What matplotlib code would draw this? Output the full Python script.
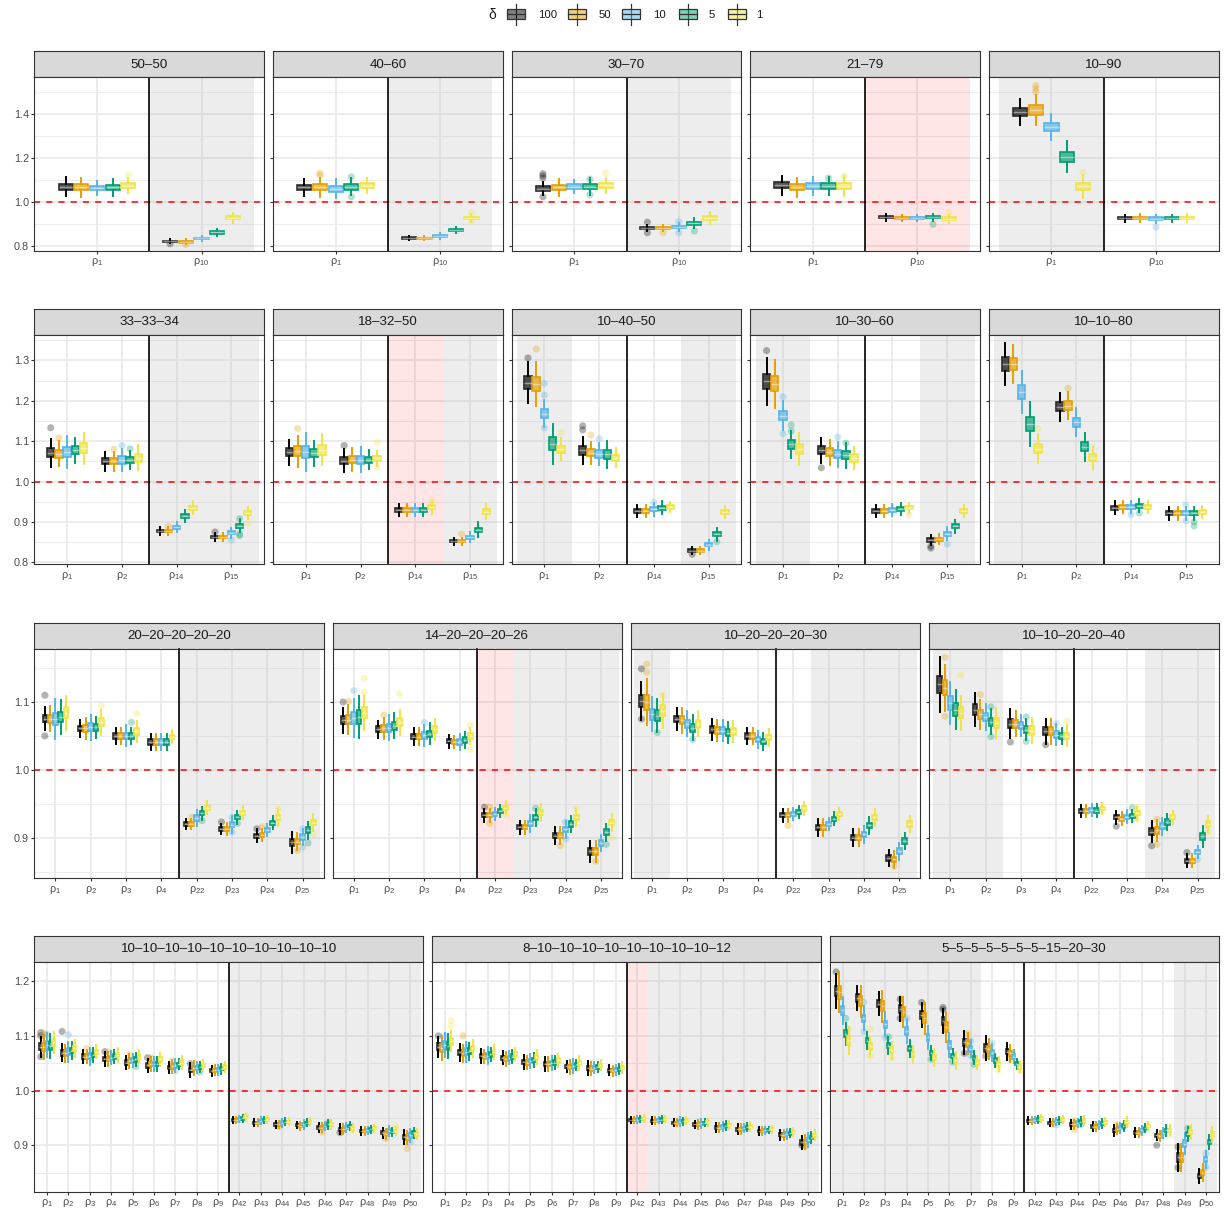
import matplotlib
matplotlib.use("Agg")
import matplotlib.pyplot as plt
from matplotlib.patches import Rectangle
from matplotlib.lines import Line2D
from matplotlib.colors import to_rgba

plt.rcParams['font.family'] = ['Liberation Sans', 'DejaVu Sans']
plt.rcParams['mathtext.fontset'] = 'custom'
plt.rcParams['mathtext.rm'] = 'Liberation Sans'
plt.rcParams['mathtext.default'] = 'regular'

W, H = 1224, 1213
fig = plt.figure(figsize=(W / 100, H / 100), dpi=100)

# ---------------------------------------------------------------- data
DELTAS = ['100', '50', '10', '5', '1']
COLORS = ['#000000', '#E69F00', '#56B4E9', '#009E73', '#F0E442']

cats_r1 = ['1', '10']
cats_r2 = ['1', '2', '14', '15']
cats_r3 = ['1', '2', '3', '4', '22', '23', '24', '25']
cats_r4 = ['1', '2', '3', '4', '5', '6', '7', '8', '9',
           '42', '43', '44', '45', '46', '47', '48', '49', '50']

# medians: one list per delta (100, 50, 10, 5, 1), one value per category
med_50_50 = [[1.070, 0.823], [1.068, 0.821], [1.066, 0.836], [1.068, 0.863], [1.076, 0.929]]
iqr_50_50 = [[0.028, 0.006], [0.028, 0.007], [0.020, 0.008], [0.025, 0.010], [0.022, 0.014]]
out_50_50 = [(2, 0, 0.812), (2, 1, 0.808), (1, 4, 1.122)]

med_40_60 = [[1.068, 0.838], [1.068, 0.836], [1.062, 0.847], [1.070, 0.874], [1.075, 0.928]]
iqr_40_60 = [[0.025, 0.006], [0.028, 0.006], [0.028, 0.008], [0.025, 0.010], [0.022, 0.012]]
out_40_60 = [(1, 1, 1.132), (1, 1, 1.122), (1, 3, 1.115), (1, 3, 1.025), (2, 4, 0.952), (2, 4, 0.914)]

med_30_70 = [[1.062, 0.883], [1.068, 0.883], [1.071, 0.888], [1.071, 0.905], [1.078, 0.928]]
iqr_30_70 = [[0.020, 0.010], [0.025, 0.010], [0.020, 0.012], [0.025, 0.015], [0.022, 0.018]]
out_30_70 = [(1, 0, 1.13), (1, 0, 1.12), (1, 0, 1.11), (1, 0, 1.025), (1, 3, 1.105), (1, 3, 1.035),
             (1, 4, 1.132), (2, 0, 0.91), (2, 0, 0.862), (2, 1, 0.862), (2, 2, 0.912), (2, 2, 0.862),
             (2, 3, 0.870)]

med_21_79 = [[1.077, 0.932], [1.068, 0.929], [1.074, 0.929], [1.074, 0.932], [1.074, 0.925]]
iqr_21_79 = [[0.028, 0.010], [0.028, 0.010], [0.025, 0.010], [0.025, 0.010], [0.028, 0.012]]
out_21_79 = [(1, 3, 1.11), (1, 4, 1.12), (2, 3, 0.90), (2, 4, 0.955)]

med_10_90 = [[1.410, 0.928], [1.420, 0.928], [1.342, 0.925], [1.207, 0.928], [1.072, 0.928]]
iqr_10_90 = [[0.037, 0.010], [0.044, 0.012], [0.037, 0.012], [0.045, 0.010], [0.033, 0.012]]
out_10_90 = [(1, 1, 1.53), (1, 1, 1.515), (1, 1, 1.50), (1, 4, 1.135), (2, 2, 0.888)]

med_33_33_34 = [[1.071, 1.050, 0.877, 0.862], [1.069, 1.050, 0.877, 0.862],
                [1.073, 1.053, 0.887, 0.873], [1.077, 1.053, 0.914, 0.891],
                [1.082, 1.059, 0.935, 0.922]]
iqr_33_33_34 = [[0.022, 0.015, 0.006, 0.006], [0.020, 0.015, 0.006, 0.006],
                [0.025, 0.018, 0.008, 0.008], [0.020, 0.015, 0.010, 0.010],
                [0.025, 0.020, 0.010, 0.010]]
out_33_33_34 = [(1, 0, 1.133), (1, 1, 1.108), (2, 1, 1.080), (2, 2, 1.089), (2, 3, 1.081),
                (3, 1, 0.889), (4, 0, 0.875), (4, 2, 0.855), (4, 3, 0.908), (4, 3, 0.870),
                (4, 3, 0.866), (4, 4, 0.897)]

med_18_32_50 = [[1.073, 1.052, 0.929, 0.852], [1.075, 1.054, 0.929, 0.852],
                [1.073, 1.054, 0.929, 0.862], [1.070, 1.054, 0.929, 0.880],
                [1.079, 1.058, 0.936, 0.925]]
iqr_18_32_50 = [[0.020, 0.018, 0.010, 0.006], [0.025, 0.018, 0.010, 0.006],
                [0.030, 0.020, 0.010, 0.008], [0.020, 0.015, 0.010, 0.012],
                [0.025, 0.012, 0.010, 0.012]]
out_18_32_50 = [(1, 1, 1.131), (2, 0, 1.089), (2, 4, 1.097), (2, 4, 1.036), (3, 4, 0.951),
                (4, 1, 0.870)]

med_10_40_50 = [[1.245, 1.077, 0.927, 0.829], [1.242, 1.071, 0.927, 0.829],
                [1.168, 1.068, 0.931, 0.844], [1.093, 1.067, 0.935, 0.869],
                [1.080, 1.059, 0.937, 0.925]]
iqr_10_40_50 = [[0.033, 0.022, 0.010, 0.006], [0.035, 0.018, 0.010, 0.006],
                [0.022, 0.018, 0.010, 0.008], [0.032, 0.022, 0.010, 0.010],
                [0.018, 0.015, 0.008, 0.010]]
out_10_40_50 = [(1, 0, 1.306), (1, 1, 1.328), (1, 2, 1.243), (1, 2, 1.214), (1, 2, 1.133),
                (1, 4, 1.12), (2, 0, 1.138), (2, 0, 1.128), (2, 1, 1.115), (2, 2, 1.106),
                (3, 2, 0.949), (4, 0, 0.820), (4, 3, 0.851)]

med_10_30_60 = [[1.248, 1.077, 0.927, 0.855], [1.242, 1.073, 0.927, 0.857],
                [1.163, 1.068, 0.929, 0.871], [1.092, 1.065, 0.932, 0.889],
                [1.081, 1.058, 0.935, 0.927]]
iqr_10_30_60 = [[0.037, 0.020, 0.010, 0.008], [0.038, 0.020, 0.010, 0.008],
                [0.023, 0.020, 0.010, 0.010], [0.022, 0.020, 0.010, 0.010],
                [0.026, 0.018, 0.008, 0.010]]
out_10_30_60 = [(1, 0, 1.324), (1, 2, 1.21), (1, 2, 1.118), (1, 3, 1.14), (1, 3, 1.125),
                (2, 0, 1.034), (2, 2, 1.11), (2, 3, 1.095), (3, 4, 0.917), (4, 0, 0.840),
                (4, 0, 0.835), (4, 2, 0.845)]

med_10_10_80 = [[1.291, 1.185, 0.935, 0.921], [1.291, 1.188, 0.937, 0.921],
                [1.222, 1.147, 0.937, 0.921], [1.143, 1.086, 0.940, 0.921],
                [1.081, 1.059, 0.937, 0.925]]
iqr_10_10_80 = [[0.033, 0.022, 0.010, 0.010], [0.030, 0.022, 0.010, 0.010],
                [0.034, 0.022, 0.010, 0.010], [0.035, 0.022, 0.010, 0.010],
                [0.023, 0.018, 0.010, 0.010]]
out_10_10_80 = [(1, 4, 1.13), (2, 1, 1.231), (3, 2, 0.918), (3, 3, 0.922), (4, 2, 0.942),
                (4, 2, 0.903), (4, 3, 0.900), (4, 3, 0.890)]

med_20x5 = [[1.0755, 1.061, 1.050, 1.041, 0.920, 0.913, 0.903, 0.893],
            [1.0755, 1.061, 1.050, 1.041, 0.920, 0.913, 0.904, 0.894],
            [1.075, 1.063, 1.050, 1.041, 0.929, 0.919, 0.911, 0.901],
            [1.078, 1.063, 1.050, 1.041, 0.936, 0.930, 0.922, 0.911],
            [1.084, 1.070, 1.057, 1.049, 0.944, 0.937, 0.930, 0.922]]
iqr_20x5 = [[0.011, 0.008, 0.008, 0.008, 0.005, 0.005, 0.006, 0.010],
            [0.012, 0.010, 0.008, 0.008, 0.005, 0.006, 0.006, 0.008],
            [0.019, 0.012, 0.010, 0.008, 0.008, 0.008, 0.006, 0.008],
            [0.016, 0.010, 0.008, 0.008, 0.006, 0.006, 0.006, 0.008],
            [0.016, 0.012, 0.010, 0.006, 0.006, 0.006, 0.008, 0.008]]
out_20x5 = [(1, 0, 1.11), (1, 0, 1.05), (2, 4, 1.094), (3, 3, 1.07), (3, 4, 1.083),
            (5, 1, 0.93), (5, 3, 0.925), (6, 0, 0.923), (6, 2, 0.93), (6, 2, 0.908),
            (6, 3, 0.921), (7, 0, 0.913), (7, 1, 0.916), (7, 4, 0.942), (8, 1, 0.881),
            (8, 2, 0.886), (8, 2, 0.913), (8, 3, 0.892), (8, 4, 0.906)]

med_14_26 = [[1.073, 1.060, 1.049, 1.042, 0.933, 0.915, 0.903, 0.880],
             [1.074, 1.061, 1.049, 1.041, 0.933, 0.915, 0.903, 0.880],
             [1.076, 1.062, 1.051, 1.041, 0.935, 0.921, 0.912, 0.892],
             [1.078, 1.065, 1.053, 1.044, 0.939, 0.930, 0.920, 0.908],
             [1.084, 1.070, 1.060, 1.050, 0.944, 0.937, 0.930, 0.922]]
iqr_14_26 = [[0.012, 0.008, 0.008, 0.006, 0.006, 0.006, 0.008, 0.010],
             [0.014, 0.010, 0.008, 0.006, 0.006, 0.006, 0.008, 0.010],
             [0.018, 0.012, 0.010, 0.008, 0.006, 0.008, 0.008, 0.008],
             [0.020, 0.012, 0.010, 0.008, 0.006, 0.008, 0.008, 0.008],
             [0.016, 0.012, 0.010, 0.008, 0.006, 0.008, 0.008, 0.008]]
out_14_26 = [(1, 0, 1.10), (1, 1, 1.101), (1, 2, 1.117), (1, 4, 1.135), (1, 4, 1.114),
             (2, 1, 1.081), (2, 4, 1.112), (3, 2, 1.07), (4, 4, 1.066), (4, 4, 1.03),
             (5, 0, 0.945), (5, 1, 0.945), (5, 1, 0.921), (5, 4, 0.934), (6, 3, 0.943),
             (7, 1, 0.888), (7, 2, 0.923), (7, 2, 0.898), (7, 4, 0.944), (8, 1, 0.865),
             (8, 3, 0.89), (8, 4, 0.90)]

med_10_20_30 = [[1.102, 1.075, 1.060, 1.050, 0.933, 0.915, 0.900, 0.870],
                [1.100, 1.073, 1.058, 1.050, 0.933, 0.915, 0.900, 0.868],
                [1.082, 1.068, 1.058, 1.045, 0.935, 0.920, 0.905, 0.880],
                [1.080, 1.062, 1.055, 1.042, 0.938, 0.928, 0.918, 0.895],
                [1.087, 1.068, 1.057, 1.048, 0.943, 0.935, 0.930, 0.920]]
iqr_10_20_30 = [[0.018, 0.010, 0.010, 0.008, 0.006, 0.008, 0.008, 0.008],
                [0.022, 0.012, 0.010, 0.008, 0.006, 0.008, 0.008, 0.008],
                [0.016, 0.012, 0.010, 0.008, 0.006, 0.006, 0.008, 0.008],
                [0.016, 0.012, 0.010, 0.008, 0.006, 0.006, 0.008, 0.008],
                [0.016, 0.012, 0.010, 0.008, 0.006, 0.006, 0.008, 0.008]]
out_10_20_30 = [(1, 0, 1.149), (1, 0, 1.075), (1, 1, 1.156), (1, 1, 1.144), (1, 3, 1.055),
                (1, 4, 1.11), (2, 3, 1.045), (5, 1, 0.918), (8, 1, 0.858)]

med_10_10_20_20_40 = [[1.126, 1.089, 1.068, 1.057, 0.939, 0.930, 0.909, 0.866],
                      [1.121, 1.082, 1.068, 1.057, 0.939, 0.928, 0.911, 0.866],
                      [1.099, 1.078, 1.065, 1.052, 0.941, 0.931, 0.917, 0.879],
                      [1.089, 1.071, 1.059, 1.050, 0.940, 0.932, 0.923, 0.902],
                      [1.084, 1.069, 1.058, 1.050, 0.943, 0.936, 0.930, 0.920]]
iqr_10_10_20_20_40 = [[0.026, 0.016, 0.014, 0.012, 0.006, 0.006, 0.010, 0.006],
                      [0.022, 0.014, 0.012, 0.012, 0.006, 0.006, 0.010, 0.006],
                      [0.020, 0.012, 0.010, 0.010, 0.006, 0.006, 0.008, 0.006],
                      [0.019, 0.012, 0.010, 0.008, 0.006, 0.006, 0.008, 0.010],
                      [0.016, 0.014, 0.012, 0.010, 0.005, 0.006, 0.006, 0.008]]
out_10_10_20_20_40 = [(1, 1, 1.166), (1, 1, 1.079), (1, 4, 1.14), (2, 1, 1.111), (2, 3, 1.093),
                      (2, 3, 1.049), (3, 0, 1.041), (3, 3, 1.078), (3, 3, 1.042), (4, 0, 1.037),
                      (4, 2, 1.068), (4, 4, 1.072), (6, 0, 0.917), (6, 3, 0.944), (6, 4, 0.944),
                      (6, 4, 0.927), (7, 0, 0.888), (7, 1, 0.927), (7, 1, 0.890), (8, 0, 0.878),
                      (8, 2, 0.868), (8, 4, 0.909)]

med_10x10 = [[1.080, 1.069, 1.062, 1.058, 1.051, 1.046, 1.042, 1.038, 1.036,
              0.946, 0.941, 0.938, 0.937, 0.932, 0.929, 0.926, 0.923, 0.915],
             [1.079, 1.068, 1.062, 1.058, 1.054, 1.048, 1.044, 1.041, 1.037,
              0.946, 0.941, 0.938, 0.935, 0.932, 0.929, 0.926, 0.921, 0.914],
             [1.083, 1.071, 1.063, 1.060, 1.055, 1.049, 1.046, 1.042, 1.038,
              0.948, 0.945, 0.941, 0.938, 0.935, 0.932, 0.927, 0.926, 0.918],
             [1.081, 1.073, 1.065, 1.062, 1.057, 1.049, 1.048, 1.043, 1.040,
              0.949, 0.946, 0.943, 0.941, 0.938, 0.935, 0.929, 0.924, 0.923],
             [1.088, 1.077, 1.071, 1.065, 1.062, 1.057, 1.051, 1.046, 1.043,
              0.951, 0.947, 0.943, 0.943, 0.938, 0.931, 0.931, 0.926, 0.920]]
iqr_10x10 = [[0.012, 0.010, 0.008, 0.008, 0.008, 0.008, 0.006, 0.008, 0.006,
              0.004, 0.004, 0.004, 0.004, 0.005, 0.006, 0.005, 0.006, 0.008],
             [0.014, 0.010, 0.008, 0.008, 0.008, 0.008, 0.008, 0.008, 0.006,
              0.004, 0.004, 0.004, 0.005, 0.005, 0.006, 0.005, 0.006, 0.008],
             [0.014, 0.012, 0.010, 0.008, 0.008, 0.008, 0.008, 0.006, 0.006,
              0.004, 0.004, 0.005, 0.005, 0.005, 0.005, 0.004, 0.006, 0.008],
             [0.014, 0.010, 0.008, 0.008, 0.008, 0.008, 0.006, 0.006, 0.006,
              0.004, 0.004, 0.004, 0.004, 0.005, 0.005, 0.004, 0.005, 0.006],
             [0.012, 0.010, 0.008, 0.008, 0.008, 0.008, 0.008, 0.006, 0.006,
              0.004, 0.004, 0.004, 0.004, 0.005, 0.005, 0.004, 0.005, 0.006]]
out_10x10 = [(1, 0, 1.100), (1, 0, 1.106), (1, 0, 1.062), (1, 1, 1.105), (1, 1, 1.100),
             (1, 2, 1.103), (2, 0, 1.108), (2, 2, 1.102), (3, 1, 1.077), (4, 0, 1.071),
             (4, 1, 1.071), (5, 1, 1.066), (5, 3, 1.044), (6, 0, 1.060), (6, 1, 1.060),
             (7, 1, 1.054), (7, 2, 1.036), (8, 0, 1.049), (8, 3, 1.034), (10, 4, 0.955),
             (12, 1, 0.934), (14, 1, 0.924), (14, 3, 0.940), (15, 0, 0.923), (17, 1, 0.912),
             (17, 4, 0.934), (18, 1, 0.894), (18, 2, 0.906)]

med_8_12 = [[1.080, 1.070, 1.063, 1.060, 1.052, 1.049, 1.044, 1.041, 1.037,
             0.946, 0.945, 0.941, 0.938, 0.932, 0.929, 0.926, 0.919, 0.905],
            [1.078, 1.068, 1.062, 1.058, 1.051, 1.048, 1.043, 1.040, 1.036,
             0.946, 0.945, 0.941, 0.938, 0.932, 0.929, 0.926, 0.918, 0.906],
            [1.083, 1.071, 1.064, 1.060, 1.054, 1.050, 1.045, 1.042, 1.038,
             0.947, 0.946, 0.943, 0.940, 0.934, 0.931, 0.927, 0.921, 0.910],
            [1.081, 1.072, 1.066, 1.062, 1.056, 1.051, 1.047, 1.043, 1.039,
             0.948, 0.947, 0.944, 0.941, 0.936, 0.933, 0.928, 0.922, 0.914],
            [1.090, 1.077, 1.070, 1.066, 1.061, 1.055, 1.050, 1.046, 1.042,
             0.949, 0.948, 0.945, 0.942, 0.937, 0.934, 0.929, 0.924, 0.918]]
iqr_8_12 = iqr_10x10
out_8_12 = [(1, 4, 1.128), (1, 4, 1.118), (1, 2, 1.10), (1, 0, 1.10), (2, 1, 1.10),
            (18, 0, 0.900), (18, 1, 0.898)]

med_5_30 = [[1.182, 1.169, 1.159, 1.149, 1.138, 1.127, 1.088, 1.078, 1.071,
             0.945, 0.941, 0.938, 0.934, 0.927, 0.923, 0.918, 0.878, 0.844],
            [1.180, 1.163, 1.154, 1.144, 1.132, 1.116, 1.086, 1.076, 1.068,
             0.945, 0.941, 0.938, 0.934, 0.929, 0.923, 0.917, 0.878, 0.850],
            [1.147, 1.132, 1.121, 1.109, 1.097, 1.083, 1.076, 1.069, 1.062,
             0.946, 0.944, 0.941, 0.937, 0.932, 0.927, 0.923, 0.903, 0.874],
            [1.104, 1.091, 1.082, 1.077, 1.069, 1.063, 1.060, 1.055, 1.049,
             0.947, 0.945, 0.943, 0.940, 0.935, 0.931, 0.927, 0.921, 0.906],
            [1.092, 1.081, 1.074, 1.066, 1.060, 1.055, 1.051, 1.048, 1.043,
             0.949, 0.947, 0.945, 0.942, 0.942, 0.935, 0.927, 0.924, 0.921]]
iqr_5_30 = [[0.020, 0.014, 0.014, 0.014, 0.014, 0.014, 0.014, 0.014, 0.010,
             0.004, 0.004, 0.005, 0.005, 0.006, 0.005, 0.006, 0.016, 0.008],
            [0.024, 0.018, 0.018, 0.018, 0.018, 0.018, 0.012, 0.012, 0.010,
             0.004, 0.004, 0.005, 0.005, 0.006, 0.005, 0.006, 0.016, 0.010],
            [0.016, 0.014, 0.014, 0.014, 0.014, 0.014, 0.010, 0.010, 0.008,
             0.004, 0.004, 0.005, 0.005, 0.006, 0.005, 0.006, 0.012, 0.010],
            [0.013, 0.010, 0.010, 0.010, 0.008, 0.008, 0.008, 0.008, 0.006,
             0.004, 0.004, 0.005, 0.005, 0.006, 0.005, 0.006, 0.008, 0.008],
            [0.016, 0.012, 0.010, 0.010, 0.010, 0.010, 0.008, 0.008, 0.006,
             0.004, 0.004, 0.005, 0.005, 0.006, 0.005, 0.006, 0.008, 0.008]]
out_5_30 = [(1, 0, 1.217), (1, 3, 1.132), (1, 4, 1.112), (2, 2, 1.162), (2, 2, 1.108),
            (2, 4, 1.112), (2, 4, 1.063), (3, 2, 1.097), (3, 3, 1.098), (3, 4, 1.060),
            (4, 0, 1.167), (4, 0, 1.132), (4, 2, 1.132), (5, 0, 1.161), (5, 3, 1.057),
            (6, 0, 1.152), (6, 0, 1.148), (6, 3, 1.052), (7, 0, 1.068), (7, 1, 1.104),
            (7, 2, 1.091), (7, 2, 1.063), (7, 3, 1.048), (8, 0, 1.063), (8, 2, 1.086),
            (8, 4, 1.037), (9, 1, 1.057), (9, 4, 1.052), (9, 4, 1.036), (11, 2, 0.937),
            (12, 1, 0.945), (12, 1, 0.929), (12, 3, 0.938), (14, 1, 0.938), (16, 0, 0.900),
            (17, 0, 0.897), (17, 0, 0.859), (17, 3, 0.931), (18, 2, 0.885), (18, 2, 0.860)]

# ------------------------------------------------------------- panels
ROWS = [
    dict(ylim=(0.779, 1.567), major=[0.8, 1.0, 1.2, 1.4], minor=[0.9, 1.1, 1.3, 1.5],
         ylab=['0.8', '1.0', '1.2', '1.4'], geom=(51, 77.3, 251), panels=[
             ('50–50', cats_r1, 1, {2: 'g'}, med_50_50, iqr_50_50, out_50_50),
             ('40–60', cats_r1, 1, {2: 'g'}, med_40_60, iqr_40_60, out_40_60),
             ('30–70', cats_r1, 1, {2: 'g'}, med_30_70, iqr_30_70, out_30_70),
             ('21–79', cats_r1, 1, {2: 'p'}, med_21_79, iqr_21_79, out_21_79),
             ('10–90', cats_r1, 1, {1: 'g'}, med_10_90, iqr_10_90, out_10_90)]),
    dict(ylim=(0.795, 1.364), major=[0.8, 0.9, 1.0, 1.1, 1.2, 1.3],
         minor=[0.85, 0.95, 1.05, 1.15, 1.25, 1.35],
         ylab=['0.8', '0.9', '1.0', '1.1', '1.2', '1.3'], geom=(309, 334.5, 564.3), panels=[
             ('33–33–34', cats_r2, 2, {3: 'g', 4: 'g'}, med_33_33_34, iqr_33_33_34, out_33_33_34),
             ('18–32–50', cats_r2, 2, {3: 'p', 4: 'g'}, med_18_32_50, iqr_18_32_50, out_18_32_50),
             ('10–40–50', cats_r2, 2, {1: 'g', 4: 'g'}, med_10_40_50, iqr_10_40_50, out_10_40_50),
             ('10–30–60', cats_r2, 2, {1: 'g', 4: 'g'}, med_10_30_60, iqr_10_30_60, out_10_30_60),
             ('10–10–80', cats_r2, 2, {1: 'g', 2: 'g'}, med_10_10_80, iqr_10_10_80, out_10_10_80)]),
    dict(ylim=(0.840, 1.179), major=[0.9, 1.0, 1.1], minor=[0.85, 0.95, 1.05, 1.15],
         ylab=['0.9', '1.0', '1.1'], geom=(623, 648.5, 878.3), panels=[
             ('20–20–20–20–20', cats_r3, 4, {5: 'g', 6: 'g', 7: 'g', 8: 'g'},
              med_20x5, iqr_20x5, out_20x5),
             ('14–20–20–20–26', cats_r3, 4, {5: 'p', 6: 'g', 7: 'g', 8: 'g'},
              med_14_26, iqr_14_26, out_14_26),
             ('10–20–20–20–30', cats_r3, 4, {1: 'g', 6: 'g', 7: 'g', 8: 'g'},
              med_10_20_30, iqr_10_20_30, out_10_20_30),
             ('10–10–20–20–40', cats_r3, 4, {1: 'g', 2: 'g', 7: 'g', 8: 'g'},
              med_10_10_20_20_40, iqr_10_10_20_20_40, out_10_10_20_20_40)]),
    dict(ylim=(0.815, 1.235), major=[0.9, 1.0, 1.1, 1.2], minor=[0.85, 0.95, 1.05, 1.15],
         ylab=['0.9', '1.0', '1.1', '1.2'], geom=(935.5, 962, 1191.7), panels=[
             ('10–10–10–10–10–10–10–10–10–10', cats_r4, 9, {i: 'g' for i in range(10, 19)},
              med_10x10, iqr_10x10, out_10x10),
             ('8–10–10–10–10–10–10–10–10–12', cats_r4, 9,
              dict([(10, 'p')] + [(i, 'g') for i in range(11, 19)]),
              med_8_12, iqr_8_12, out_8_12),
             ('5–5–5–5–5–5–5–15–20–30', cats_r4, 9,
              dict([(i, 'g') for i in range(1, 8)] + [(17, 'g'), (18, 'g')]),
              med_5_30, iqr_5_30, out_5_30)]),
]

LEFT, RIGHT, GAP = 34.3, 1218.7, 8.7
DODGE, BOXW, WHISK = 0.15, 0.135, 1.05
SHADE = {'g': ('#BEBEBE', 0.27), 'p': ('#FF0000', 0.10)}
EDGE = ['#2B2B2B', '#E69F00', '#56B4E9', '#009E73', '#F0E442']


def fr(x0, y0, x1, y1):
    return [x0 / W, 1 - y1 / H, (x1 - x0) / W, (y1 - y0) / H]


for row in ROWS:
    n_pan = len(row['panels'])
    pw = (RIGHT - LEFT - GAP * (n_pan - 1)) / n_pan
    st, pt, pb = row['geom']
    for j, (title, cats, split, shade, med, iqr, out) in enumerate(row['panels']):
        x0 = LEFT + j * (pw + GAP)
        # strip
        sax = fig.add_axes(fr(x0, st, x0 + pw, pt))
        sax.set_xticks([]); sax.set_yticks([])
        sax.set_facecolor('#D9D9D9')
        for s in sax.spines.values():
            s.set_color('#333333'); s.set_linewidth(0.8)
        sax.text(0.5, 0.48, title, ha='center', va='center', fontsize=9.6,
                 color='#1A1A1A', transform=sax.transAxes)
        # panel
        ax = fig.add_axes(fr(x0, pt, x0 + pw, pb))
        n = len(cats)
        ax.set_xlim(0.4, n + 0.6)
        ax.set_ylim(*row['ylim'])
        ax.set_xticks(range(1, n + 1))
        ax.set_xticklabels(['ρ$_{%s}$' % c for c in cats])
        ax.set_yticks(row['major'])
        ax.set_yticks(row['minor'], minor=True)
        if j == 0:
            ax.set_yticklabels(row['ylab'])
        else:
            ax.set_yticklabels([])
            ax.tick_params(axis='y', which='major', length=0)
        ax.tick_params(axis='both', which='major', labelsize=7.8, labelcolor='#4D4D4D',
                       color='#333333', length=2.3, width=0.8, pad=1.5)
        ax.tick_params(axis='y', which='minor', length=0)
        ax.grid(which='major', color='#EBEBEB', lw=1.3, zorder=0)
        ax.grid(which='minor', axis='y', color='#EBEBEB', lw=0.65, zorder=0)
        ax.set_axisbelow(True)
        for s in ax.spines.values():
            s.set_color('#333333'); s.set_linewidth(0.8); s.set_zorder(10)
        for c, kind in shade.items():
            col, a = SHADE[kind]
            ax.axvspan(c - 0.5, c + 0.5, color=col, alpha=a, lw=0, zorder=0.8)
        ax.axhline(1.0, color='#FF0000', lw=1.1, ls=(0, (4, 4)), zorder=1.5)
        ax.axvline(split + 0.5, color='black', lw=1.2, zorder=1.6)
        # outliers
        ox = [c + (k - 2) * DODGE for c, k, v in out]
        oy = [v for c, k, v in out]
        oc = [to_rgba(COLORS[k], 0.3) for c, k, v in out]
        ax.scatter(ox, oy, s=26, c=oc, linewidths=0, zorder=2.5)
        # boxes
        for k in range(5):
            col = COLORS[k]
            stats, pos = [], []
            for ci in range(n):
                m, q = med[k][ci], iqr[k][ci]
                q1, q3 = m - q / 2, m + q / 2
                stats.append(dict(med=m, q1=q1, q3=q3, whislo=q1 - WHISK * q,
                                  whishi=q3 + WHISK * q, fliers=[]))
                pos.append(ci + 1 + (k - 2) * DODGE)
            ax.bxp(stats, positions=pos, widths=BOXW, patch_artist=True,
                   showcaps=False, showfliers=False, manage_ticks=False,
                   boxprops=dict(facecolor=to_rgba(col, 0.68),
                                 edgecolor=EDGE[k], linewidth=1.2),
                   whiskerprops=dict(color=col, linewidth=1.4),
                   medianprops=dict(color=to_rgba('white', 0.45), linewidth=1.0),
                   zorder=3)

# ------------------------------------------------------------- legend
lax = fig.add_axes([0, 0, 1, 1])
lax.set_xlim(0, W); lax.set_ylim(H, 0); lax.axis('off')
lax.text(492.5, 15, 'δ', ha='center', va='center', fontsize=10, color='#1A1A1A')
key_x = [516, 576.5, 631, 687.5, 737]
lab_x = [538, 599, 653, 709, 756.5]
for k in range(5):
    cx = key_x[k]
    lax.add_line(Line2D([cx, cx], [4, 25], color='#333333', lw=0.9))
    lax.add_patch(Rectangle((cx - 9, 9.3), 18, 10, facecolor=to_rgba(COLORS[k], 0.5),
                            edgecolor='#333333', lw=0.9, zorder=3))
    lax.add_line(Line2D([cx - 9, cx + 9], [14.3, 14.3], color='#333333', lw=0.9, zorder=4))
    lax.text(lab_x[k], 15, DELTAS[k], ha='left', va='center', fontsize=8.2, color='#1A1A1A')

fig.savefig('out.png', dpi=100)
